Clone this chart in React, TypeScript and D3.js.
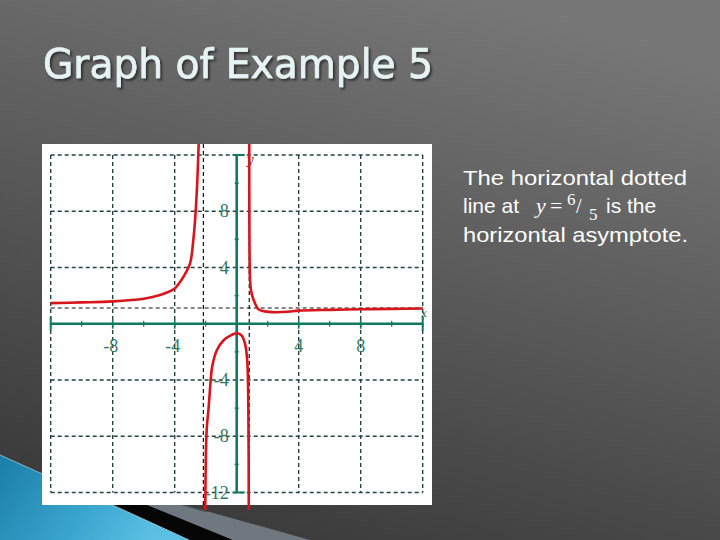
import React from "react";
import * as d3 from "d3";

// ---- data ----
const gridValues = [-12, -8, -4, 0, 4, 8, 12];
const xTickValues = [-8, -4, 4, 8];
const xTickLabels = ["-8", "-4", "4", "8"];
const yTickValues = [8, 4, -4, -8, -12];
const yTickLabels = ["8", "4", "-4", "-8", "-12"];
const minorTicks = [-10, -6, -2, 2, 6, 10];
const verticalAsymptotes = [-2.15, 0.81];
const horizontalAsymptote = 1.12;

const leftBranchX = [-12, -10, -8, -6, -5, -4.5, -4, -3.7, -3.44, -3.01, -2.8, -2.67, -2.54, -2.45, -2.4];
const leftBranchY = [1.47, 1.52, 1.59, 1.78, 2.02, 2.22, 2.5, 2.9, 3.33, 4.29, 5.95, 7.6, 10.2, 12.9, 14];

const middleBranchX = [-2.03, -1.94, -1.81, -1.68, -1.59, -1.29, -0.86, -0.32, 0.04, 0.32, 0.54, 0.68, 0.75, 0.78];
const middleBranchY = [-13.8, -7.6, -5.95, -4.05, -3.1, -1.9, -1.19, -0.79, -0.67, -0.84, -1.43, -2.62, -5.95, -13.8];

const rightBranchX = [0.81, 0.82, 0.86, 0.92, 1.0, 1.2, 1.4, 1.8, 2.5, 3.3, 4, 6, 8, 10, 12];
const rightBranchY = [14, 6.4, 3.2, 2.4, 2.0, 1.4, 1.03, 0.88, 0.82, 0.85, 0.93, 0.99, 1.03, 1.06, 1.08];

const titleText = "Graph of Example 5";
const noteLines = ["The horizontal dotted", "horizontal asymptote."];

const W = 720;
const H = 540;

export default function App() {
  const x = d3.scaleLinear().domain([-12, 12]).range([50.7, 422.7]);
  const y = d3.scaleLinear().domain([-12, 12]).range([492.5, 155]);

  const line = d3
    .line<[number, number]>()
    .x((d) => x(d[0]))
    .y((d) => y(d[1]))
    .curve(d3.curveCatmullRom.alpha(0.5));

  const branches = [
    [leftBranchX, leftBranchY],
    [middleBranchX, middleBranchY],
    [rightBranchX, rightBranchY],
  ].map(([xs, ys]) => line(xs.map((v, i) => [v, ys[i]] as [number, number])) || "");

  const gridColor = "#22463d";
  const axisColor = "#127a5c";
  const labelColor = "#2f7a66";

  return (
    <svg
      width={W}
      height={H}
      viewBox={`0 0 ${W} ${H}`}
      style={{ position: "fixed", left: 0, top: 0, display: "block" }}
    >
      <defs>
        <linearGradient id="bg" x1="0.7" y1="0" x2="0.3" y2="1">
          <stop offset="0" stopColor="#777777" />
          <stop offset="1" stopColor="#3a3a3a" />
        </linearGradient>
        <linearGradient id="blue" x1="0" y1="0" x2="1" y2="0.3">
          <stop offset="0" stopColor="#1a7ea6" />
          <stop offset="0.6" stopColor="#3aa6d0" />
          <stop offset="1" stopColor="#5cc0e2" />
        </linearGradient>
        <filter id="shadow" x="-5%" y="-20%" width="110%" height="150%">
          <feDropShadow dx="2" dy="2" stdDeviation="1.2" floodColor="#1e1e1e" floodOpacity="0.7" />
        </filter>
        <clipPath id="plotClip">
          <rect x={42} y={144} width={390} height={366} />
        </clipPath>
      </defs>

      <rect x={0} y={0} width={W} height={H} fill="url(#bg)" />

      {/* bottom-left decoration */}
      <polygon points="0,455 190,540 0,540" fill="url(#blue)" />
      <polyline points="0,455 190,540" fill="none" stroke="#9fd8ee" strokeWidth={1} opacity={0.7} />
      <polygon points="100,498 150,498 233,540 190,540" fill="#050505" />
      <polygon points="147,505 185,505 310,540 233,540" fill="#6f7880" />
      <polygon points="180,505 320,505 320,512 205,512" fill="#3c3c3c" opacity={0.6} />

      {/* title */}
      <text
        x={43}
        y={78}
        fontFamily="DejaVu Sans, Verdana, sans-serif"
        fontSize={40}
        textLength={390}
        lengthAdjust="spacingAndGlyphs"
        fill="#e6f3f3"
        stroke="#e6f3f3"
        strokeWidth={0.7}
        filter="url(#shadow)"
      >
        {titleText}
      </text>

      {/* white graph panel */}
      <rect x={42} y={144} width={390} height={361} fill="#ffffff" />

      {/* grid */}
      <g stroke={gridColor} strokeWidth={1.4} strokeDasharray="4,3" fill="none">
        {gridValues.map((v) => (
          <line key={`gv${v}`} x1={x(v)} x2={x(v)} y1={y(12)} y2={y(-12)} />
        ))}
        {gridValues.map((v) => (
          <line key={`gh${v}`} x1={x(-12)} x2={x(12)} y1={y(v)} y2={y(v)} />
        ))}
      </g>

      {/* asymptotes */}
      <g stroke="#111" strokeWidth={1.2} strokeDasharray="4,3" fill="none">
        {verticalAsymptotes.map((v) => (
          <line key={`va${v}`} x1={x(v)} x2={x(v)} y1={144} y2={505} />
        ))}
        <line x1={x(-12)} x2={x(12)} y1={y(horizontalAsymptote)} y2={y(horizontalAsymptote)} />
      </g>

      {/* axes */}
      <g stroke={axisColor} fill="none">
        <line x1={x(-12)} x2={x(12)} y1={y(0)} y2={y(0)} strokeWidth={2.6} />
        <line x1={x(0)} x2={x(0)} y1={y(12)} y2={y(-12)} strokeWidth={2.6} />
        {[-12, 12].map((v) => (
          <line key={`xe${v}`} x1={x(v)} x2={x(v)} y1={y(0) - 7} y2={y(0) + 7} strokeWidth={2} />
        ))}
        {[-12, 12].map((v) => (
          <line key={`ye${v}`} x1={x(0) - 4} x2={x(0) + 8} y1={y(v)} y2={y(v)} strokeWidth={2} />
        ))}
        {xTickValues.map((v) => (
          <line key={`xt${v}`} x1={x(v)} x2={x(v)} y1={y(0) - 4} y2={y(0) + 5} strokeWidth={1.6} />
        ))}
        {minorTicks.map((v) => (
          <line key={`xm${v}`} x1={x(v)} x2={x(v)} y1={y(0) - 3} y2={y(0) + 3} strokeWidth={1.2} />
        ))}
        {minorTicks.map((v) => (
          <line key={`ym${v}`} x1={x(0) - 2} x2={x(0) + 2} y1={y(v)} y2={y(v)} strokeWidth={1.6} />
        ))}
      </g>

      {/* tick labels */}
      <g fontFamily="Liberation Serif, DejaVu Serif, serif" fontSize={18} fill={labelColor}>
        {xTickValues.map((v, i) => (
          <text key={`xl${v}`} x={x(v) - (v < 0 ? 2 : 0)} y={y(0) + 22} textAnchor="middle" dominantBaseline="central">
            {xTickLabels[i]}
          </text>
        ))}
        {yTickValues.map((v, i) => (
          <text key={`yl${v}`} x={x(0) - 8} y={y(v)} textAnchor="end" dominantBaseline="central">
            {yTickLabels[i]}
          </text>
        ))}
      </g>
      <text x={x(12) - 2} y={y(0) - 7} fontFamily="DejaVu Serif, serif" fontStyle="italic" fontSize={11} fill="#2a5a50">
        x
      </text>
      <text x={x(0) + 10} y={y(12) + 9} fontFamily="DejaVu Serif, serif" fontStyle="italic" fontSize={12} fill="#5a2a2a">
        y
      </text>

      {/* curves */}
      <g clipPath="url(#plotClip)" fill="none" stroke="#d8141c" strokeWidth={2.6} strokeLinejoin="round">
        {branches.map((d, i) => (
          <path key={`b${i}`} d={d} />
        ))}
      </g>

      {/* note text */}
      <g fontFamily="Liberation Sans, Arial, sans-serif" fontSize={21} fill="#ffffff">
        <text x={463} y={185} textLength={224} lengthAdjust="spacingAndGlyphs">
          {noteLines[0]}
        </text>
        <text x={463} y={213}>line at</text>
        <text x={536} y={213} fontFamily="Liberation Serif, serif" fontStyle="italic" fontSize={22}>
          y
        </text>
        <text x={550} y={213} fontFamily="Liberation Serif, serif" fontSize={22}>
          =
        </text>
        <text x={567} y={205} fontFamily="Liberation Serif, serif" fontSize={17}>
          6
        </text>
        <text x={576} y={213} fontFamily="Liberation Serif, serif" fontSize={20}>
          /
        </text>
        <text x={589} y={220} fontFamily="Liberation Serif, serif" fontSize={17}>
          5
        </text>
        <text x={606} y={213}>is the</text>
        <text x={463} y={242} textLength={225} lengthAdjust="spacingAndGlyphs">
          {noteLines[1]}
        </text>
      </g>
    </svg>
  );
}
